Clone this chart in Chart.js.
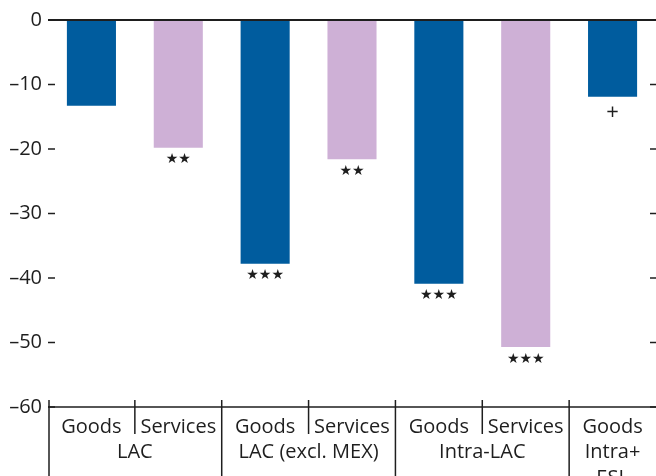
<!DOCTYPE html>
<html>
<head>
<meta charset="utf-8">
<script src="https://cdn.jsdelivr.net/npm/chart.js@4/dist/chart.umd.min.js"></script>
<style>
  html, body { margin: 0; padding: 0; background: #fff; }
  #wrap { width: 656px; height: 476px; position: relative; }
</style>
</head>
<body>
<div id="wrap"><canvas id="c" width="656" height="476"></canvas></div>
<script>
// ---- data ----
const categories = ['Goods', 'Services', 'Goods', 'Services', 'Goods', 'Services', 'Goods'];
const groupIndex = [0, 0, 1, 1, 2, 2, 3];
const groupLabels = [['LAC'], ['LAC (excl. MEX)'], ['Intra-LAC'], ['Intra+', 'ESL']];
const values = [-13.3, -19.8, -37.8, -21.6, -40.9, -50.7, -11.9];
const significance = ['', '★★', '★★★', '★★', '★★★', '★★★', '+'];
const yTicks = [0, -10, -20, -30, -40, -50, -60];

const BLUE = '#005c9e';
const PURPLE = '#ceb0d6';
const INK = '#1e1e1e';
const FONT = '"Open Sans", sans-serif';

const barColors = categories.map(c => c === 'Goods' ? BLUE : PURPLE);

const decor = {
  id: 'decor',
  afterDatasetsDraw(chart) {
    const ctx = chart.ctx;
    const x = chart.scales.x, y = chart.scales.y;
    const L = chart.chartArea.left, R = chart.chartArea.right;
    const y0 = y.getPixelForValue(0), yB = y.getPixelForValue(-60);
    ctx.save();
    ctx.strokeStyle = INK;
    // zero line and bottom axis line
    ctx.lineWidth = 2;
    ctx.beginPath(); ctx.moveTo(L, y0); ctx.lineTo(R, y0); ctx.stroke();
    ctx.lineWidth = 1.5;
    ctx.beginPath(); ctx.moveTo(L, yB); ctx.lineTo(R, yB); ctx.stroke();
    // inward tick marks left and right
    yTicks.forEach(v => {
      const py = y.getPixelForValue(v);
      ctx.beginPath(); ctx.moveTo(L, py); ctx.lineTo(L + 7, py); ctx.stroke();
      ctx.beginPath(); ctx.moveTo(R - 6, py); ctx.lineTo(R, py); ctx.stroke();
    });
    // significance labels
    const meta = chart.getDatasetMeta(0);
    ctx.fillStyle = INK;
    ctx.textAlign = 'center';
    ctx.textBaseline = 'middle';
    meta.data.forEach((bar, i) => {
      const s = significance[i];
      if (!s) return;
      if (s === '+') {
        ctx.font = '22px ' + FONT;
        ctx.fillText(s, bar.x, bar.y + 16);
      } else {
        ctx.font = '14px "DejaVu Sans", sans-serif';
        ctx.fillText(s, bar.x, bar.y + 12);
      }
    });
    // multi-level category axis
    ctx.lineWidth = 1.5;
    const bottom = chart.height;
    ctx.beginPath(); ctx.moveTo(L + 1, yB - 7); ctx.lineTo(L + 1, bottom); ctx.stroke();
    for (let i = 0; i < categories.length - 1; i++) {
      const bx = (x.getPixelForValue(i) + x.getPixelForValue(i + 1)) / 2;
      const groupBreak = groupIndex[i] !== groupIndex[i + 1];
      ctx.beginPath();
      ctx.moveTo(bx, yB - 7);
      ctx.lineTo(bx, groupBreak ? bottom : yB + 27);
      ctx.stroke();
    }
    ctx.font = '20px ' + FONT;
    ctx.fillStyle = INK;
    categories.forEach((c, i) => {
      ctx.fillText(c, x.getPixelForValue(i), yB + 20);
    });
    groupLabels.forEach((lines, g) => {
      const idx = groupIndex.map((gi, i) => gi === g ? i : -1).filter(i => i >= 0);
      const cx = (x.getPixelForValue(idx[0]) + x.getPixelForValue(idx[idx.length - 1])) / 2;
      lines.forEach((t, k) => ctx.fillText(t, cx, yB + 45 + k * 26));
    });
    ctx.restore();
  }
};

new Chart(document.getElementById('c'), {
  type: 'bar',
  data: {
    labels: categories,
    datasets: [{
      data: values,
      backgroundColor: barColors,
      borderWidth: 0,
      categoryPercentage: 1,
      barPercentage: 0.565
    }]
  },
  options: {
    responsive: false,
    animation: false,
    layout: { padding: { top: 20, bottom: 69, right: 0, left: 0 } },
    plugins: { legend: { display: false }, tooltip: { enabled: false } },
    scales: {
      x: { display: false },
      y: {
        min: -60, max: 0,
        afterFit(s) { s.width = 48; },
        afterBuildTicks(s) { s.ticks = yTicks.map(v => ({ value: v })); },
        grid: { display: false, drawTicks: false },
        border: { display: false },
        ticks: {
          padding: 6,
          color: INK,
          font: { family: FONT, size: 20 },
          callback: v => String(v).replace('-', '–')
        }
      }
    }
  },
  plugins: [decor]
});
</script>
</body>
</html>
